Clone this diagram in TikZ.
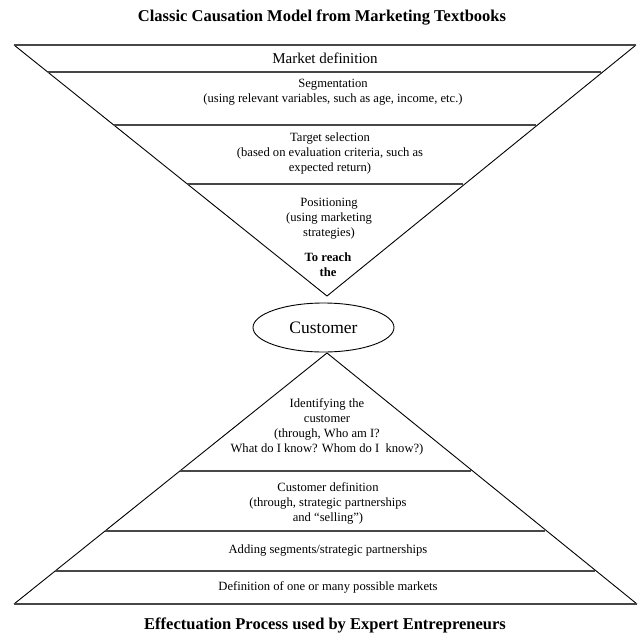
\documentclass[tikz,border=0pt]{standalone}
\usepackage{fontspec}
\setmainfont{Liberation Serif}
\usetikzlibrary{shapes.geometric}
\begin{document}
\begin{tikzpicture}[x=1pt,y=-1pt,
  edge/.style={black, line width=0.9pt},
  band/.style={draw=black!72, line width=1.5pt},
  lbl/.style={align=center, inner sep=0pt, font=\fontsize{12.6}{15}\selectfont},
  boldlbl/.style={align=center, inner sep=0pt, font=\fontsize{12.6}{15}\selectfont\bfseries},
  ttl/.style={inner sep=0pt, font=\fontsize{16.5}{19}\selectfont\bfseries},
  custshape/.style={ellipse, draw=black, line width=0.9pt, minimum width=141pt, minimum height=49pt, inner sep=0pt, font=\fontsize{17.5}{20}\selectfont}]
\useasboundingbox (0,0) rectangle (638,641);

% top (inverted) triangle
\coordinate (tl) at (14,45);
\coordinate (tr) at (636,45);
\coordinate (ta) at (327,296);
\draw[edge] (tl) -- (ta) -- (tr);
\draw[band] (tl) -- (tr);
\coordinate (t1l) at (47.7,72);  \coordinate (t1r) at (601,72);
\coordinate (t2l) at (113.8,125); \coordinate (t2r) at (535.5,125);
\coordinate (t3l) at (187.3,184); \coordinate (t3r) at (463,184);
\draw[band] (t1l) -- (t1r);
\draw[band] (t2l) -- (t2r);
\draw[band] (t3l) -- (t3r);

% bottom triangle
\coordinate (ba) at (327,353);
\coordinate (bl) at (14,604);
\coordinate (br) at (637,604);
\draw[edge] (bl) -- (ba) -- (br);
\draw[band] (bl) -- (br);
\coordinate (b1l) at (179.9,471); \coordinate (b1r) at (471,471);
\coordinate (b2l) at (105,531);   \coordinate (b2r) at (545,531);
\coordinate (b3l) at (55,571);    \coordinate (b3r) at (595,571);
\draw[band] (b1l) -- (b1r);
\draw[band] (b2l) -- (b2r);
\draw[band] (b3l) -- (b3r);

% customer
\node[custshape] (cust) at (323.5,327.5) {Customer};

% titles
\node[ttl] (title1) at (322,18) {Classic Causation Model from Marketing Textbooks};
\node[ttl] (title2) at (325,625) {Effectuation Process used by Expert Entrepreneurs};

% top labels
\node[inner sep=0pt, font=\fontsize{15}{18}\selectfont] (mkt) at (325,58) {Market definition};
\node[lbl] (seg) at (333,92.5) {Segmentation\\(using relevant variables, such as age, income, etc.)};
\node[lbl] (tgt) at (330,153) {Target selection\\(based on evaluation criteria, such as\\expected return)};
\node[lbl] (pos) at (329,218.5) {Positioning\\(using marketing\\strategies)};
\node[boldlbl] (reach) at (328,264.5) {To reach\\the};

% bottom labels
\node[lbl] (ident) at (327,426.5) {Identifying the\\customer\\(through, Who am I?\\What do I know? Whom do I\ \ know?)};
\node[lbl] (cdef) at (328,503) {Customer definition\\(through, strategic partnerships\\and “selling”)};
\node[lbl] (add) at (328,550) {Adding segments/strategic partnerships};
\node[lbl] (defn) at (328,587) {Definition of one or many possible markets};
\end{tikzpicture}
\end{document}
